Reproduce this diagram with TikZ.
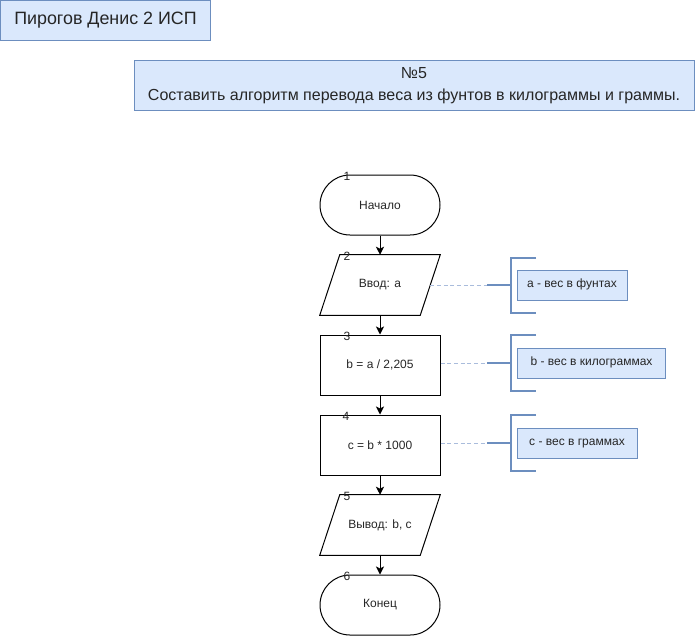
\documentclass[tikz,border=0pt]{standalone}
\usepackage{fontspec}
\setmainfont{Liberation Sans}
\usetikzlibrary{arrows.meta}
\definecolor{nfill}{HTML}{DAE8FC}
\definecolor{ndraw}{HTML}{6C8EBF}
\definecolor{ndash}{HTML}{A9BCDC}
\tikzset{
  every node/.style={font=\fontsize{9pt}{11pt}\selectfont, text=black!85},
  lbl/.style={draw=ndraw, fill=nfill, line width=0.75pt, inner sep=0pt, align=center},
  term/.style={draw, line width=0.75pt, rounded corners=22.5pt, minimum width=90pt, minimum height=45pt, inner sep=0pt},
  proc/.style={draw, line width=0.75pt, minimum width=90pt, minimum height=45pt, inner sep=0pt},
  iobox/.style={minimum width=90pt, minimum height=45pt, inner sep=0pt},
  ioline/.style={line width=0.75pt},
  num/.style={font=\fontsize{9pt}{11pt}\selectfont, inner sep=0pt},
  flow/.style={line width=0.75pt, -{Stealth[length=6pt,width=6pt,inset=1.5pt]}},
  note/.style={draw=ndraw, fill=nfill, line width=0.75pt, minimum height=22.5pt, inner sep=0pt, text height=0.68em, text depth=0.24em, font=\fontsize{9pt}{10pt}\selectfont},
  dashlink/.style={draw=ndash, line width=0.75pt, dash pattern=on 3pt off 2pt},
  bracket/.style={draw=ndraw, line width=1.5pt},
}
\begin{document}
\begin{tikzpicture}[x=0.75pt, y=-0.75pt]
\useasboundingbox (0,0) rectangle (695,636);
% header boxes
\node[lbl, minimum width=157.5pt, minimum height=30pt, font=\fontsize{13.4pt}{15pt}\selectfont] (title) at (105.5,20) {Пирогов Денис 2 ИСП};
\node[lbl, minimum width=420pt, minimum height=37pt, font=\fontsize{12pt}{16pt}\selectfont] (task) at (414,85.5) {№5\\Составить алгоритм перевода веса из фунтов в килограммы и граммы.};
% flowchart
\node[term]  (n1) at (380,205) {Начало};
\node[iobox] (n2) at (380,285) {Ввод: a};
\node[proc]  (n3) at (380,365) {b = a / 2,205};
\node[proc]  (n4) at (380,445) {c = b * 1000};
\node[iobox] (n5) at (380,525) {Вывод: b, c};
\node[term]  (n6) at (380,605) {Конец};
\draw[ioline] (n2.south west) -- ([xshift=15pt]n2.north west) -- (n2.north east) -- ([xshift=-15pt]n2.south east) -- cycle;
\draw[ioline] (n5.south west) -- ([xshift=15pt]n5.north west) -- (n5.north east) -- ([xshift=-15pt]n5.south east) -- cycle;
\node[num] (k1) at (347,176) {1};
\node[num] (k2) at (347,256) {2};
\node[num] (k3) at (347,336) {3};
\node[num] (k4) at (346,416) {4};
\node[num] (k5) at (347,496) {5};
\node[num] (k6) at (347,576) {6};
\draw[flow] (n1) -- (n2);
\draw[flow] (n2) -- (n3);
\draw[flow] (n3) -- (n4);
\draw[flow] (n4) -- (n5);
\draw[flow] (n5) -- (n6);
% annotations
\node[note, minimum width=82.5pt] (a1) at (572,285) {a - вес в фунтах};
\node[note, minimum width=111pt] (a2) at (591.5,363) {b - вес в килограммах};
\node[note, minimum width=90pt] (a3) at (577,443) {c - вес в граммах};
\coordinate (d1) at (487,285);
\coordinate (d2) at (487,363);
\coordinate (d3) at (487,443);
\draw[dashlink] ([xshift=-7.5pt]n2.east) -- (d1);
\draw[dashlink] (n3.east |- d2) -- (d2);
\draw[dashlink] (n4.east |- d3) -- (d3);
\draw[bracket] (d1) -- (511,285);
\draw[bracket] (d2) -- (511,363);
\draw[bracket] (d3) -- (511,443);
\draw[bracket] (536,258) -- (511,258) -- (511,313) -- (536,313);
\draw[bracket] (536,335) -- (511,335) -- (511,391) -- (536,391);
\draw[bracket] (536,415) -- (511,415) -- (511,471) -- (536,471);
\end{tikzpicture}
\end{document}
